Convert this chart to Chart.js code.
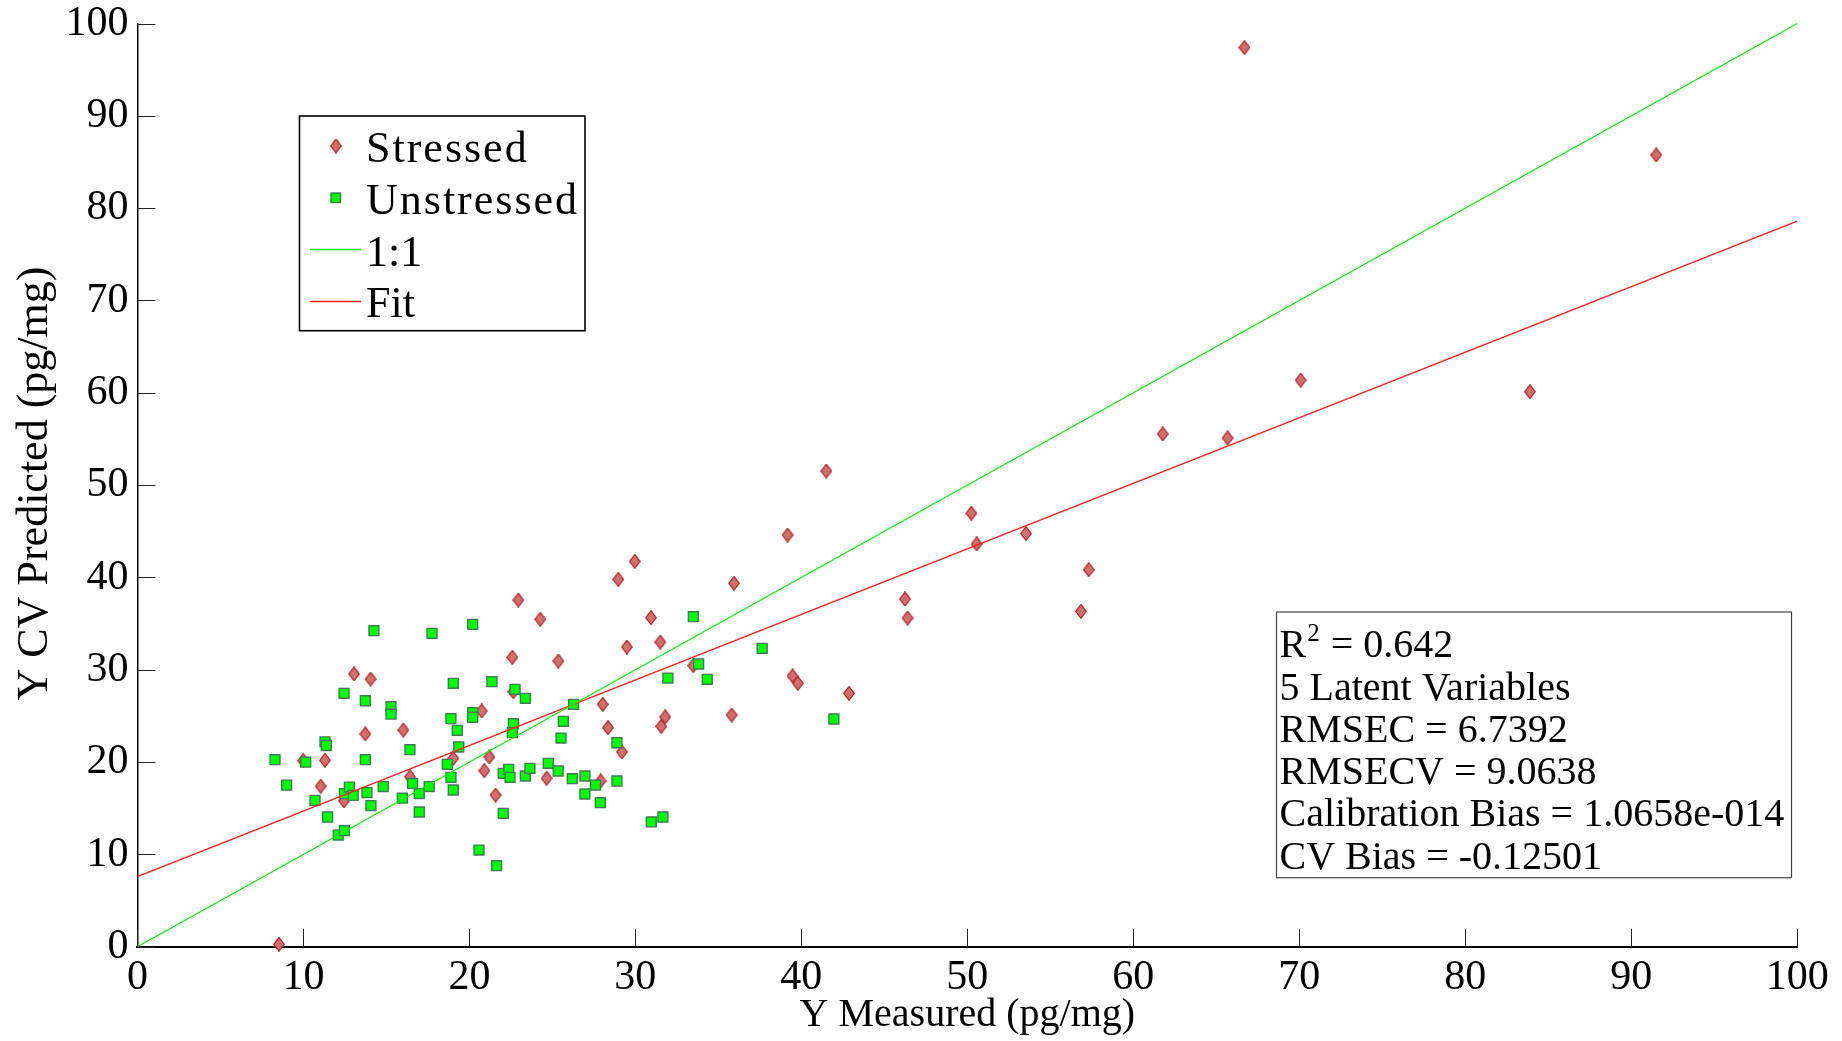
<!DOCTYPE html>
<html>
<head>
<meta charset="utf-8">
<script src="https://cdn.jsdelivr.net/npm/chart.js@4/dist/chart.umd.min.js"></script>
<style>html,body{margin:0;padding:0;background:#fff;overflow:hidden}</style>
</head>
<body>
<canvas id="c" width="1842" height="1041" style="width:1842px;height:1041px;display:block"></canvas>
<script>
// ---------------- data ----------------
const xTickValues = [0, 10, 20, 30, 40, 50, 60, 70, 80, 90, 100];
const yTickValues = [0, 10, 20, 30, 40, 50, 60, 70, 80, 90, 100];

const stressedX = [8.53, 9.99, 11.30, 11.04, 12.45, 13.05, 14.05, 13.73, 16.02, 16.42,
  29.96, 28.97, 35.94, 22.95, 24.27, 30.94, 31.5, 29.49, 22.59, 25.36,
  33.49, 22.65, 20.74, 28.03, 28.35, 31.8, 31.56, 35.8, 19.03, 21.2,
  20.9, 21.58, 24.65, 27.91, 29.19,
  41.5, 39.17, 50.24, 50.56, 53.53, 57.31, 56.84, 46.24, 46.4, 39.47, 39.79, 42.87,
  66.69, 91.5, 70.08, 83.89, 61.77, 65.68];
const stressedY = [0.27, 20.16, 20.2, 17.4, 15.8, 29.55, 29.0, 23.05, 23.48, 18.4,
  41.75, 39.8, 39.37, 37.56, 35.47, 35.65, 33.0, 32.47, 31.35, 30.95,
  30.45, 27.63, 25.54, 26.26, 23.73, 24.89, 23.88, 25.1, 20.41, 20.56,
  19.07, 16.44, 18.25, 17.96, 21.1,
  51.53, 44.6, 46.95, 43.63, 44.75, 40.85, 36.33, 37.67, 35.61, 29.33, 28.54, 27.45,
  97.4, 85.76, 61.37, 60.12, 55.54, 55.11];

const unstressedX = [8.29, 8.99, 10.14, 10.70, 11.30, 11.38, 11.46, 12.45, 12.1, 12.47,
  12.47, 12.77, 13.0, 13.73, 13.73, 13.83, 14.07, 14.25, 14.81, 15.28,
  15.28, 15.96, 16.42, 16.58, 16.98, 16.98, 17.58, 17.75,
  20.2, 19.03, 21.36, 22.75, 23.37, 18.89, 19.27, 20.2, 20.2, 19.36,
  18.67, 18.89, 19.03, 22.65, 22.59, 22.04, 22.37, 22.45, 23.37, 23.65,
  22.04, 20.58, 21.64, 24.75, 25.35, 26.2, 26.96, 27.6, 26.96, 27.89,
  28.89, 26.28, 25.66, 25.52, 28.89, 30.96, 31.66, 33.49, 33.81, 31.96,
  34.33, 37.64, 41.96];
const unstressedY = [20.27, 17.52, 20.0, 15.86, 22.2, 21.8, 14.06, 27.45, 12.1, 12.58,
  16.6, 17.3, 16.4, 26.65, 20.27, 16.7, 15.3, 34.24, 17.35, 26.0,
  25.2, 16.1, 21.35, 17.7, 16.6, 14.6, 17.35, 33.95,
  34.93, 28.54, 28.71, 27.89, 26.91, 24.71, 23.45, 25.36, 24.86, 21.64,
  19.76, 18.36, 16.98, 24.17, 23.19, 18.79, 19.22, 18.36, 18.5, 19.33,
  14.46, 10.48, 8.79, 19.87, 19.04, 18.21, 18.5, 17.52, 16.55, 15.61,
  17.96, 26.26, 24.42, 22.61, 22.1, 13.52, 14.06, 35.75, 30.63, 29.11,
  28.97, 32.33, 24.67];

const oneToOneX = [0, 100];
const oneToOneY = [0, 100];
const fitX = [0, 100];
const fitY = [7.6, 78.6];

const legendLabels = ['Stressed', 'Unstressed', '1:1', 'Fit'];
const xTitle = 'Y Measured (pg/mg)';
const yTitle = 'Y CV Predicted (pg/mg)';
const statsLines = ['R', '5 Latent Variables', 'RMSEC = 6.7392', 'RMSECV = 9.0638',
  'Calibration Bias = 1.0658e-014', 'CV Bias = -0.12501'];
const r2Sup = '2';
const r2Rest = ' = 0.642';

// ---------------- styles ----------------
const FONT = "'Liberation Serif', 'Times New Roman', serif";
const GREEN_LINE = '#12f012';
const RED_LINE = '#ff1c1c';
const SQ_FILL = '#00ff00';
const SQ_EDGE = '#3d7d52';
const DI_FILL = '#cf7070';
const DI_EDGE = '#b0181c';

const diamondImg = (() => {
  const c = document.createElement('canvas');
  c.width = 12; c.height = 15;
  const g = c.getContext('2d');
  g.beginPath();
  g.moveTo(6, 0.7); g.lineTo(11.3, 7.5); g.lineTo(6, 14.3); g.lineTo(0.7, 7.5); g.closePath();
  g.fillStyle = DI_FILL; g.fill();
  g.lineWidth = 1.2; g.strokeStyle = DI_EDGE; g.stroke();
  return c;
})();

const toPts = (xs, ys) => xs.map((x, i) => ({x: x, y: ys[i]}));

const overlay = {
  id: 'overlay',
  afterDraw(chart) {
    const ctx = chart.ctx;
    const xs = chart.scales.x, ys = chart.scales.y;
    const area = chart.chartArea;
    ctx.save();
    // inward ticks
    ctx.strokeStyle = '#222';
    ctx.lineWidth = 1;
    ctx.beginPath();
    yTickValues.forEach(v => {
      const py = Math.round(ys.getPixelForValue(v)) + 0.5;
      ctx.moveTo(area.left, py); ctx.lineTo(area.left + 18, py);
    });
    xTickValues.forEach(v => {
      const px = Math.round(xs.getPixelForValue(v)) + 0.5;
      ctx.moveTo(px, area.bottom); ctx.lineTo(px, area.bottom - 18);
    });
    ctx.stroke();

    ctx.fillStyle = '#000';
    // axis titles
    ctx.font = '40px ' + FONT;
    ctx.textAlign = 'center';
    ctx.textBaseline = 'alphabetic';
    ctx.fillText(xTitle, (area.left + area.right) / 2, 1026);
    ctx.save();
    ctx.translate(47, 483.5);
    ctx.rotate(-Math.PI / 2);
    ctx.font = '44px ' + FONT;
    ctx.fillText(yTitle, 0, 0);
    ctx.restore();

    // legend box
    ctx.fillStyle = '#fff';
    ctx.fillRect(299.5, 116, 285.5, 214.7);
    ctx.strokeStyle = '#000';
    ctx.lineWidth = 1.6;
    ctx.strokeRect(299.5, 116, 285.5, 214.7);
    const base = [161.7, 213.5, 265.5, 317.3];
    ctx.drawImage(diamondImg, 336 - 6, 146 - 7.5);
    ctx.fillStyle = SQ_FILL; ctx.fillRect(331, 193, 9.5, 9.5);
    ctx.strokeStyle = SQ_EDGE; ctx.lineWidth = 1.4; ctx.strokeRect(331, 193, 9.5, 9.5);
    ctx.lineWidth = 1.3;
    ctx.strokeStyle = GREEN_LINE;
    ctx.beginPath(); ctx.moveTo(310, 249.5); ctx.lineTo(361, 249.5); ctx.stroke();
    ctx.strokeStyle = RED_LINE;
    ctx.beginPath(); ctx.moveTo(310, 301.5); ctx.lineTo(361, 301.5); ctx.stroke();
    ctx.fillStyle = '#000';
    ctx.font = '44px ' + FONT;
    ctx.textAlign = 'left';
    legendLabels.forEach((t, i) => {
      ctx.letterSpacing = i < 2 ? '2px' : '0px';
      ctx.fillText(t, 366, base[i]);
    });
    ctx.letterSpacing = '0px';

    // stats box
    ctx.fillStyle = '#fff';
    ctx.fillRect(1276.5, 612, 515, 265.7);
    ctx.strokeStyle = '#444';
    ctx.lineWidth = 1.2;
    ctx.strokeRect(1276.5, 612, 515, 265.7);
    ctx.fillStyle = '#000';
    const sb0 = 657.3, step = 42.25, sx = 1279.5;
    ctx.font = '40px ' + FONT;
    statsLines.forEach((t, i) => ctx.fillText(t, sx, sb0 + i * step));
    const rW = ctx.measureText(statsLines[0]).width;
    ctx.font = '25px ' + FONT;
    ctx.fillText(r2Sup, sx + rW + 1, 641);
    const supW = ctx.measureText(r2Sup).width;
    ctx.font = '40px ' + FONT;
    ctx.fillText(r2Rest, sx + rW + supW + 2, sb0);
    ctx.restore();
  }
};

new Chart(document.getElementById('c'), {
  type: 'scatter',
  data: {
    datasets: [
      { label: '1:1', data: toPts(oneToOneX, oneToOneY), showLine: true, borderColor: GREEN_LINE,
        borderWidth: 1.3, pointRadius: 0, fill: false, order: 0, clip: false },
      { label: 'Fit', data: toPts(fitX, fitY), showLine: true, borderColor: RED_LINE,
        borderWidth: 1.3, pointRadius: 0, fill: false, order: 0, clip: false },
      { label: 'Unstressed', data: toPts(unstressedX, unstressedY), pointStyle: 'rect',
        pointRadius: 7, pointBackgroundColor: SQ_FILL, pointBorderColor: SQ_EDGE,
        pointBorderWidth: 1.4, showLine: false, order: 1, clip: false },
      { label: 'Stressed', data: toPts(stressedX, stressedY), pointStyle: diamondImg,
        pointRadius: 6, showLine: false, order: 2, clip: false }
    ]
  },
  options: {
    responsive: false,
    animation: false,
    devicePixelRatio: 1,
    layout: { padding: { left: 0, right: 44.7, top: 23.5, bottom: 0 } },
    plugins: { legend: { display: false }, tooltip: { enabled: false }, title: { display: false } },
    scales: {
      x: {
        type: 'linear', position: 'bottom', min: 0, max: 100,
        afterBuildTicks(s) { s.ticks = xTickValues.map(v => ({value: v})); },
        ticks: { font: { family: FONT, size: 42, lineHeight: 1 }, color: '#000', padding: 10,
          maxRotation: 0, autoSkip: false },
        grid: { display: false, drawTicks: false },
        border: { display: true, color: '#000', width: 2 },
        afterFit(s) { s.height = 94.2; }
      },
      y: {
        type: 'linear', position: 'left', min: 0, max: 100,
        afterBuildTicks(s) { s.ticks = yTickValues.map(v => ({value: v})); },
        ticks: { font: { family: FONT, size: 42, lineHeight: 0.5 }, color: '#000', padding: 9,
          autoSkip: false },
        grid: { display: false, drawTicks: false },
        border: { display: true, color: '#000', width: 1.5 },
        afterFit(s) { s.width = 137.4; }
      }
    }
  },
  plugins: [overlay]
});
</script>
</body>
</html>
